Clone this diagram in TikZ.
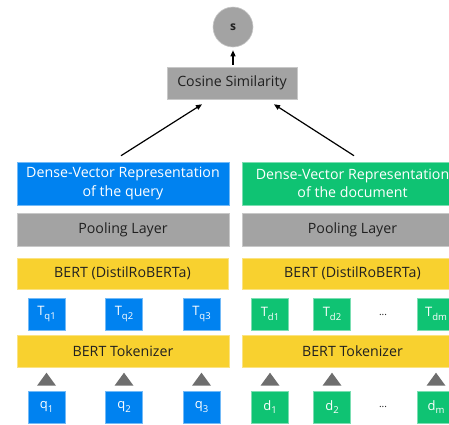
\documentclass[tikz,border=0pt]{standalone}
\usepackage{fontspec}
\setmainfont{Open Sans}
\usetikzlibrary{arrows.meta,calc}
\definecolor{ebl}{HTML}{0082F0}
\definecolor{egr}{HTML}{0FC373}
\definecolor{eye}{HTML}{F8D12F}
\definecolor{egy}{HTML}{A3A3A3}
\definecolor{etri}{HTML}{6E6E6E}
\definecolor{etxt}{HTML}{202020}
\newcommand\tsub[1]{\raisebox{-0.55ex}{\fontsize{9.5}{10}\selectfont #1}}
\begin{document}
\begin{tikzpicture}[x=1pt,y=-1pt,
  base/.style={rectangle, inner sep=0pt, font=\fontsize{14.2}{18.5}\selectfont, align=center},
  bluebox/.style={base, fill=ebl, draw=ebl!55!white, line width=0.6pt, text=white},
  greenbox/.style={base, fill=egr, draw=egr!55!white, line width=0.6pt, text=white},
  graybox/.style={base, fill=egy, draw=egy!60!white, line width=0.6pt, text=etxt},
  yellowbox/.style={base, fill=eye, draw=eye!60!white, line width=0.6pt, text=etxt},
  tok/.style={minimum width=37pt, minimum height=32pt, font=\fontsize{13}{15}\selectfont},
  arr/.style={-{Triangle[length=6pt,width=5pt]}, line width=1.2pt, black},
  dots/.style={text=etxt, font=\fontsize{10}{11}\selectfont}
]
\useasboundingbox (0,0) rectangle (449,424);
\clip (0,0) rectangle (449,424);

% top
\node[circle, fill=egy, draw=egy!60!white, line width=0.6pt, minimum size=40pt, inner sep=0pt, text=etxt, font=\fontsize{12}{14}\selectfont\bfseries] (s) at (233,27) {s};
\node[graybox, minimum width=130pt, minimum height=32pt] (cos) at (232,83) {Cosine Similarity};

% dense vectors
\node[bluebox, minimum width=212pt, minimum height=43pt] (dl) at (123,183.5) {Dense-Vector Representation\\of the query};
\node[greenbox, minimum width=221pt, minimum height=43pt] (dr) at (352.5,183.5) {Dense-Vector Representation\\of the document};

% pooling
\node[graybox, minimum width=212pt, minimum height=33pt] (pl) at (123,229.5) {Pooling Layer};
\node[graybox, minimum width=221pt, minimum height=33pt] (pr) at (352.5,229.5) {Pooling Layer};

% BERT
\node[yellowbox, minimum width=211pt, minimum height=31pt] (bl) at (122.5,273.5) {BERT (DistilRoBERTa)};
\node[yellowbox, minimum width=221pt, minimum height=31pt] (br) at (352.5,273.5) {BERT (DistilRoBERTa)};

% token outputs
\node[bluebox, tok] (tq1) at (46.5,314) {T\tsub{q1}};
\node[bluebox, tok] (tq2) at (124,314) {T\tsub{q2}};
\node[bluebox, tok] (tq3) at (201.5,314) {T\tsub{q3}};
\node[greenbox, tok] (td1) at (270,314) {T\tsub{d1}};
\node[greenbox, tok] (td2) at (332,314) {T\tsub{d2}};
\node[greenbox, tok, minimum width=38pt] (tdm) at (436,314) {T\tsub{dm}};
\node[dots] (dt) at (383,315) {...};

% tokenizer
\node[yellowbox, minimum width=212pt, minimum height=32pt] (kl) at (123,351) {BERT Tokenizer};
\node[yellowbox, minimum width=221pt, minimum height=32pt] (kr) at (352.5,351) {BERT Tokenizer};

% inputs
\node[bluebox, tok] (q1) at (46.5,407) {q\tsub{1}};
\node[bluebox, tok] (q2) at (124,407) {q\tsub{2}};
\node[bluebox, tok] (q3) at (201.5,407) {q\tsub{3}};
\node[greenbox, tok] (d1) at (270,407) {d\tsub{1}};
\node[greenbox, tok] (d2) at (332,407) {d\tsub{2}};
\node[greenbox, tok, minimum width=38pt] (dm) at (436,407) {d\tsub{m}};
\node[dots] (db) at (383,407) {...};

% triangles
\foreach \n in {q1,q2,q3,d1,d2,dm}{
  \fill[etri] ($(\n.north)+(-9.5,-5)$) -- ($(\n.north)+(9.5,-5)$) -- ($(\n.north)+(0,-18)$) -- cycle;
}

% arrows
\draw[arr] ($(cos.north)+(1,-2)$) -- ($(s.south)+(0,3)$);
\draw[arr] ($(dl.north)+(-2,-6)$) -- ($(cos.south)+(-30,5)$);
\draw[arr] ($(dr.north)+(1.5,-6)$) -- ($(cos.south)+(42,5)$);
\end{tikzpicture}
\end{document}
